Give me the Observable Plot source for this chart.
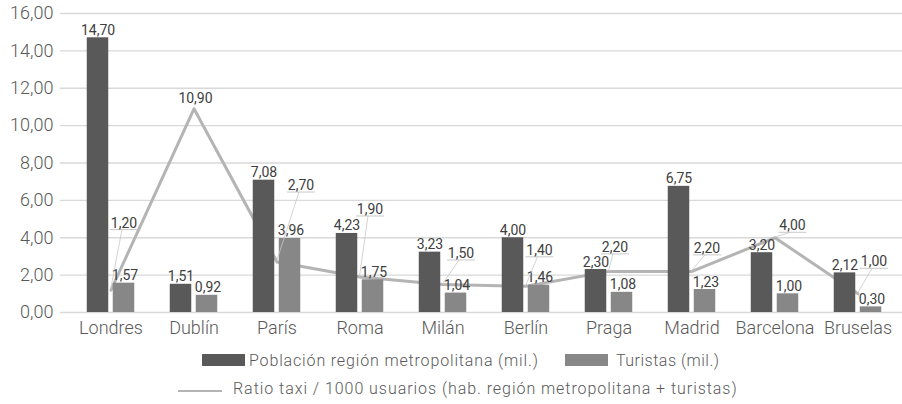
<!DOCTYPE html>
<html>
<head>
<meta charset="utf-8">
<script src="https://cdn.jsdelivr.net/npm/d3@7"></script>
<script src="https://cdn.jsdelivr.net/npm/@observablehq/plot@0.6"></script>
<style>
  body { margin: 0; background: #fff; font-family: Roboto, "Liberation Sans", sans-serif; }
  #wrap { position: relative; width: 902px; height: 404px; overflow: hidden; }
  #chart svg { display: block; }
  .leg { position: absolute; font-size: 16px; font-weight: 300; color: #595959; white-space: nowrap; line-height: 16px; letter-spacing: 0.85px; }
  .sw { position: absolute; }
  g[aria-label="x-axis tick label"], g[aria-label="y-axis tick label"] { fill: #595959; font-weight: 300; }
</style>
</head>
<body>
<div id="wrap">
  <div id="chart"></div>
  <div class="sw" id="sw1" style="left:202px;top:354px;width:43px;height:12px;"></div>
  <div class="leg" id="lg1" style="left:249px;top:353px;"></div>
  <div class="sw" id="sw2" style="left:565px;top:354px;width:43px;height:12px;"></div>
  <div class="leg" id="lg2" style="left:616px;top:353px;letter-spacing:0.5px;"></div>
  <div class="sw" id="sw3" style="left:178px;top:390px;width:44px;height:2px;"></div>
  <div class="leg" id="lg3" style="left:233px;top:381px;letter-spacing:0.95px;"></div>
</div>
<script>
// ---- data ----
const cities = ["Londres", "Dublín", "París", "Roma", "Milán", "Berlín", "Praga", "Madrid", "Barcelona", "Bruselas"];
const poblacion = [14.70, 1.51, 7.08, 4.23, 3.23, 4.00, 2.30, 6.75, 3.20, 2.12];
const turistas = [1.57, 0.92, 3.96, 1.75, 1.04, 1.46, 1.08, 1.23, 1.00, 0.30];
const ratio = [1.20, 10.90, 2.70, 1.90, 1.50, 1.40, 2.20, 2.20, 4.00, 1.00];
const yTicks = [0, 2, 4, 6, 8, 10, 12, 14, 16];
const seriesNames = ["Población región metropolitana (mil.)", "Turistas (mil.)", "Ratio taxi / 1000 usuarios (hab. región metropolitana + turistas)"];

// ---- layout (label placement in pixels: [dx, dy of underline]) ----
const ratioLabelOffsets = [[13.5, -60], null, [24.5, -69.5], [10.5, -60.5], [18.5, -24], [14, -29], [6.5, -17], [15.5, -16], [18, -5], [16.5, -25]];

const colors = {pob: "#595959", tur: "#878787", ratio: "#b4b4b4"};
const fmt = v => v.toFixed(2).replace(".", ",");

const popData = cities.map((c, i) => ({city: c, value: poblacion[i]}));
const turData = cities.map((c, i) => ({city: c, value: turistas[i]}));
const ratioData = cities.map((c, i) => ({city: c, value: ratio[i]}));

function ratioLabels(index, scales) {
  const x = scales.x, y = scales.y;
  const half = x.bandwidth ? x.bandwidth() / 2 : 0;
  const g = d3.create("svg:g").attr("aria-label", "ratio labels");
  cities.forEach((c, i) => {
    const px = x(c) + half, py = y(ratio[i]);
    const o = ratioLabelOffsets[i];
    if (!o) {
      g.append("text").attr("x", px + 2).attr("y", py - 5).attr("text-anchor", "middle")
        .attr("font-size", 14).attr("fill", "#404040").text(fmt(ratio[i]));
    } else {
      const lx = px + o[0], uy = py + o[1];
      g.append("line").attr("x1", lx - 14).attr("x2", lx + 14).attr("y1", uy).attr("y2", uy)
        .attr("stroke", "#c8c8c8").attr("stroke-width", 1);
      g.append("line").attr("x1", lx - 2).attr("y1", uy).attr("x2", px).attr("y2", py)
        .attr("stroke", "#c8c8c8").attr("stroke-width", 0.8);
      g.append("text").attr("x", lx).attr("y", uy - 2).attr("text-anchor", "middle")
        .attr("font-size", 14).attr("fill", "#404040").text(fmt(ratio[i]));
    }
  });
  return g.node();
}

const chart = Plot.plot({
  width: 902,
  height: 342,
  marginTop: 13,
  marginBottom: 30,
  marginLeft: 60,
  marginRight: 0,
  style: {fontFamily: "Roboto, 'Liberation Sans', sans-serif", fontSize: "18px", background: "#fff", overflow: "visible"},
  x: {type: "band", domain: cities, range: [66.25, 901.25], padding: 0, label: null},
  y: {domain: [0, 16], label: null},
  marks: [
    Plot.ruleY(yTicks, {stroke: "#d9d9d9", strokeWidth: 1.3}),
    Plot.axisY(yTicks, {tickSize: 0, tickPadding: 7, tickFormat: fmt, fontSize: 18, label: null}),
    Plot.axisX({tickSize: 0, tickPadding: 9, fontSize: 18, label: null}),
    Plot.lineY(ratioData, {x: "city", y: "value", stroke: colors.ratio, strokeWidth: 3}),
    Plot.barY(popData, {x: "city", y: "value", fill: colors.pob, insetLeft: 17.75, insetRight: 43.75}),
    Plot.barY(turData, {x: "city", y: "value", fill: colors.tur, insetLeft: 43.75, insetRight: 17.75}),
    Plot.text(popData, {x: "city", y: "value", text: d => fmt(d.value), dx: -13, dy: -3, lineAnchor: "bottom", fontSize: 14, fill: "#404040"}),
    Plot.text(turData, {x: "city", y: "value", text: d => fmt(d.value), dx: 14, dy: -3, lineAnchor: "bottom", fontSize: 14, fill: "#404040"}),
    ratioLabels
  ]
});
document.getElementById("chart").appendChild(chart);

document.getElementById("sw1").style.background = colors.pob;
document.getElementById("sw2").style.background = colors.tur;
document.getElementById("sw3").style.background = colors.ratio;
document.getElementById("lg1").textContent = seriesNames[0];
document.getElementById("lg2").textContent = seriesNames[1];
document.getElementById("lg3").textContent = seriesNames[2];
</script>
</body>
</html>
